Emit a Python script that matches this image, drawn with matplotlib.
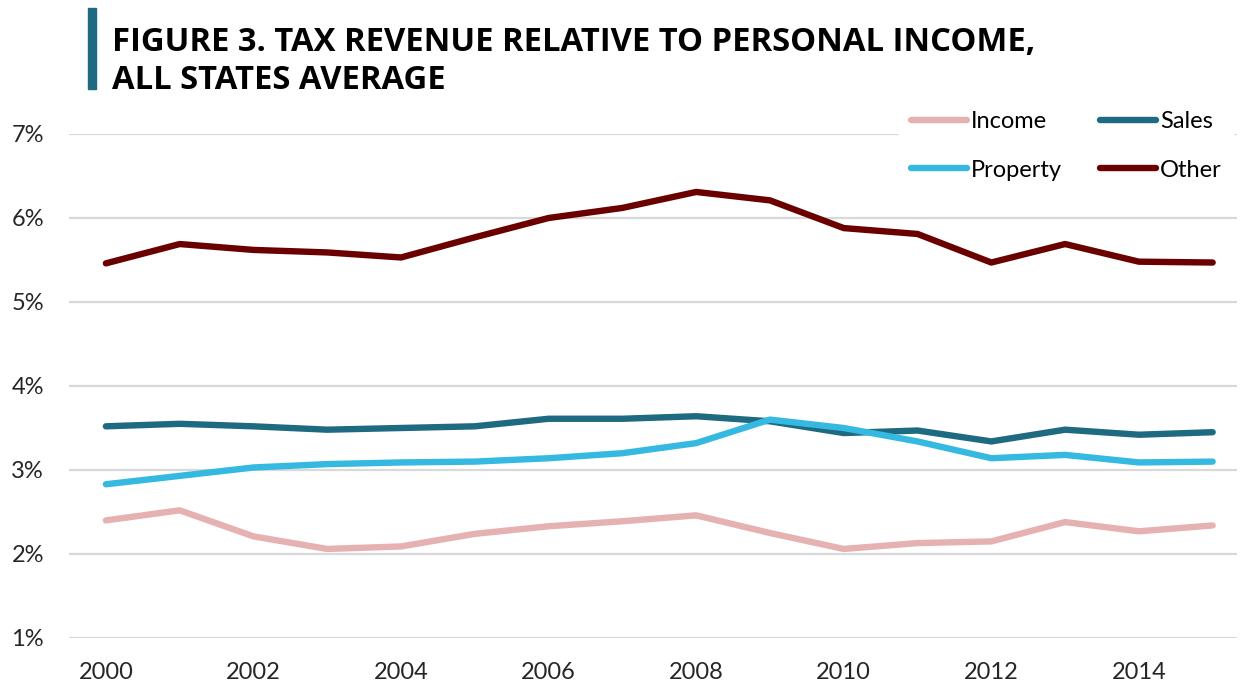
import numpy as np
import matplotlib
matplotlib.use('Agg')
import matplotlib.pyplot as plt
from matplotlib.ticker import FuncFormatter

plt.rcParams['font.family'] = ['Lato', 'DejaVu Sans']

# values (% of personal income)
years = list(range(2000, 2016))
income = [2.40, 2.52, 2.21, 2.06, 2.09, 2.24, 2.33, 2.39, 2.46, 2.25, 2.06, 2.13, 2.15, 2.38, 2.27, 2.34]
sales = [3.52, 3.55, 3.52, 3.48, 3.50, 3.52, 3.61, 3.61, 3.64, 3.58, 3.44, 3.47, 3.34, 3.48, 3.42, 3.45]
prop = [2.83, 2.93, 3.03, 3.07, 3.09, 3.10, 3.14, 3.20, 3.32, 3.60, 3.50, 3.34, 3.14, 3.18, 3.09, 3.10]
other = [5.46, 5.69, 5.62, 5.59, 5.53, 5.77, 6.00, 6.12, 6.31, 6.21, 5.88, 5.81, 5.47, 5.69, 5.48, 5.47]

yticks = [1, 2, 3, 4, 5, 6, 7]
xticks = list(range(2000, 2015, 2))

W, H = 1244, 688
fig = plt.figure(figsize=(W / 100, H / 100), dpi=100)
ax = fig.add_axes([69 / W, 1 - 638 / H, 1168 / W, 504 / H])

lw = 4.6
l_inc, = ax.plot(years, income, color='#e6b2b1', lw=lw, solid_capstyle='round', label='Income')
l_sal, = ax.plot(years, sales, color='#1e6a80', lw=lw, solid_capstyle='round', label='Sales')
l_pro, = ax.plot(years, prop, color='#35b9e1', lw=lw, solid_capstyle='round', label='Property')
l_oth, = ax.plot(years, other, color='#6b0000', lw=lw, solid_capstyle='round', label='Other')

ax.set_xlim(1999.5, 2015.33)
ax.set_ylim(1, 7)
ax.set_yticks(yticks)
ax.yaxis.set_major_formatter(FuncFormatter(lambda v, p: '%d%%' % v))
ax.set_xticks(xticks)
ax.grid(axis='y', color='#d9d9d9', lw=1.6)
ax.set_axisbelow(True)
for s in ax.spines.values():
    s.set_visible(False)
ax.tick_params(length=0, labelsize=17, colors='#262626')
ax.tick_params(axis='y', pad=18)
ax.tick_params(axis='x', pad=17)

leg = ax.legend([l_inc, l_pro, l_sal, l_oth], ['Income', 'Property', 'Sales', 'Other'],
                ncol=2, loc='center', bbox_to_anchor=(1066 / W, 1 - 146 / H),
                bbox_transform=fig.transFigure,
                frameon=True, fontsize=17, handlelength=2.4, handletextpad=0.15,
                columnspacing=1.6, labelspacing=1.15, borderpad=0.5)
leg.get_frame().set_edgecolor('white')
leg.get_frame().set_facecolor('white')
leg.get_frame().set_alpha(1)
leg.get_frame().set_boxstyle('square', pad=0)

# title with vertical accent bar
fig.add_artist(plt.Rectangle((88 / W, 1 - 89 / H), 8 / W, 81 / H,
                             color='#1e6a80', transform=fig.transFigure))
tfont = dict(fontsize=23.6, fontweight='bold', family=['Open Sans', 'DejaVu Sans'],
             va='baseline', color='black')
fig.text(112 / W, 1 - 51 / H, 'FIGURE 3. TAX REVENUE RELATIVE TO PERSONAL INCOME,', **tfont)
fig.text(112 / W, 1 - 89 / H, 'ALL STATES AVERAGE', **tfont)

fig.savefig('out.png', dpi=100)
